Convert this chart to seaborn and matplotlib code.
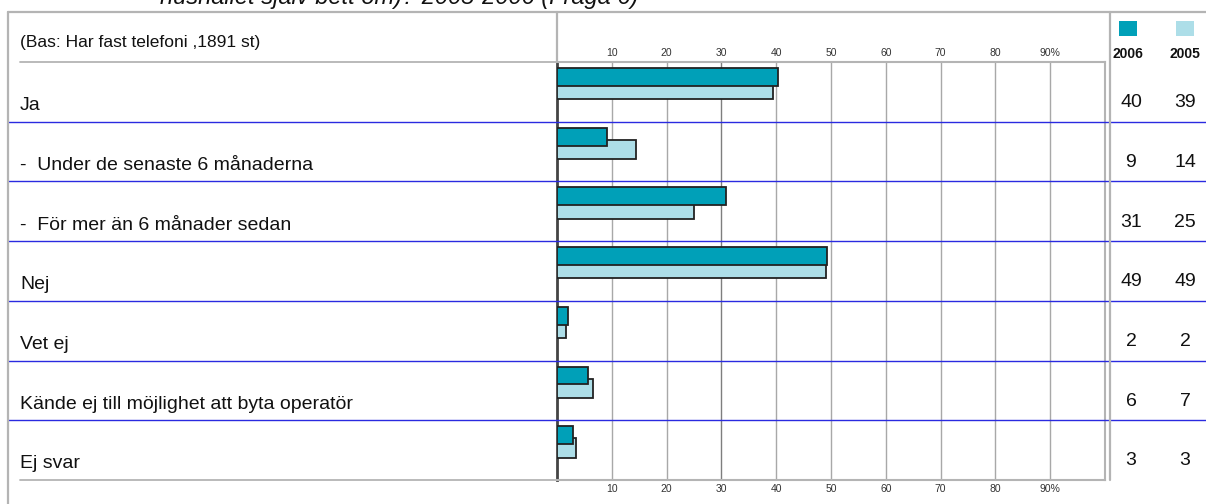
import numpy as np
import pandas as pd
import matplotlib
matplotlib.use("Agg")
import matplotlib.pyplot as plt
import matplotlib.transforms as mtransforms
from matplotlib.lines import Line2D
from matplotlib.patches import Rectangle
import seaborn as sns

# ---- data -------------------------------------------------------------
categories = [
    "Ja",
    "-  Under de senaste 6 månaderna",
    "-  För mer än 6 månader sedan",
    "Nej",
    "Vet ej",
    "Kände ej till möjlighet att byta operatör",
    "Ej svar",
]
values_2006 = [40.3, 9.1, 30.9, 49.3, 2.0, 5.7, 3.0]
values_2005 = [39.4, 14.4, 25.0, 49.0, 1.6, 6.6, 3.4]
years = ["2006", "2005"]
tick_values = [10, 20, 30, 40, 50, 60, 70, 80, 90]
tick_labels = ["10", "20", "30", "40", "50", "60", "70", "80", "90%"]

title_text = "hushållet själv bett om)? 2005-2006 (Fråga 6)"
base_text = "(Bas: Har fast telefoni ,1891 st)"

col_2006 = "#00A0B8"
col_2005 = "#ADDEE8"
edge = "#222222"
grid_grey = "#A8A8A8"
frame_grey = "#B4B4B4"
sep_blue = "#2A2AE0"

sns.set_theme(style="white")
plt.rcParams["font.family"] = ["Liberation Sans", "DejaVu Sans"]
narrow = ["Liberation Sans Narrow", "Liberation Sans", "DejaVu Sans"]

W, H = 1206, 504
fig = plt.figure(figsize=(W / 100, H / 100), dpi=100)
fig.patch.set_facecolor("white")


def fx(px):
    return px / W


def fy(py):
    return 1 - py / H


# plot region in pixels
x0, x1 = 557, 1105
y_top, y_bot = 62, 480
ax = fig.add_axes([fx(x0), fy(y_bot), fx(x1) - fx(x0), fy(y_top) - fy(y_bot)])

n = len(categories)
idx = np.arange(n)
df = pd.DataFrame({
    "pos06": idx + 0.25,
    "pos05": idx + 0.465,
    "v06": values_2006,
    "v05": values_2005,
})

# 2005 bars behind, 2006 bars in front
sns.barplot(data=df, x="v05", y="pos05", orient="h", native_scale=True,
            width=0.32, color=col_2005, saturation=1, edgecolor=edge,
            linewidth=1.3, errorbar=None, ax=ax, zorder=3)
sns.barplot(data=df, x="v06", y="pos06", orient="h", native_scale=True,
            width=0.30, color=col_2006, saturation=1, edgecolor=edge,
            linewidth=1.3, errorbar=None, ax=ax, zorder=4)

ax.set_xlim(0, 100)
ax.set_ylim(n, 0)
ax.set_xlabel("")
ax.set_ylabel("")
ax.set_yticks([])
ax.set_xticks(tick_values)
ax.set_xticklabels(tick_labels, family=narrow)
ax.tick_params(axis="x", length=0, labelsize=7.5, colors="#333333",
               top=True, labeltop=True, bottom=True, labelbottom=True, pad=3)
for t in tick_values:
    ax.axvline(t, color="#7E7E7E" if t == 30 else grid_grey, lw=1.0, zorder=1)

for side in ["top", "right", "bottom"]:
    ax.spines[side].set_color(frame_grey)
    ax.spines[side].set_linewidth(1.5)
ax.spines["left"].set_color("#444444")
ax.spines["left"].set_linewidth(2.0)

# row separators across the whole table
blend = mtransforms.blended_transform_factory(fig.transFigure, ax.transData)
for i in range(1, n):
    ax.add_line(Line2D([fx(8), 1.0], [i, i], transform=blend, color=sep_blue,
                       lw=1.0, clip_on=False, zorder=5))
for yv in (0, n):
    ax.add_line(Line2D([fx(20), fx(x0)], [yv, yv], transform=blend,
                       color=frame_grey, lw=1.3, clip_on=False, zorder=5))

# row labels and value columns
col_x = {"2006": 1131, "2005": 1185}
for i, lab in enumerate(categories):
    ax.text(fx(20), i + 0.73, lab, transform=blend, ha="left", va="center",
            fontsize=14, color="#111111")
    ax.text(fx(col_x["2006"]), i + 0.68, f"{values_2006[i]:.0f}", transform=blend,
            ha="center", va="center", fontsize=14, color="#111111")
    ax.text(fx(col_x["2005"]), i + 0.68, f"{values_2005[i]:.0f}", transform=blend,
            ha="center", va="center", fontsize=14, color="#111111")

# outer frame and dividers
frame_lines = [
    ([8, W], [12, 12]),
    ([8, 8], [12, H]),
    ([x0, x0], [12, y_top]),
    ([1110, 1110], [12, y_bot]),
]
for xs, ys in frame_lines:
    fig.add_artist(Line2D([fx(v) for v in xs], [fy(v) for v in ys],
                          color=frame_grey, lw=1.6))

# header texts
fig.text(fx(20), fy(43), base_text, ha="left", va="center", fontsize=12.5,
         color="#111111")
fig.text(fx(160), fy(4), title_text, ha="left", va="baseline", fontsize=17,
         style="italic", color="#111111")

# legend squares and year labels
for yr, colr in zip(years, [col_2006, col_2005]):
    cx = col_x[yr] - 3 if yr == "2006" else col_x[yr]
    fig.add_artist(Rectangle((fx(cx - 9), fy(36)), fx(18), 15 / H,
                             transform=fig.transFigure, facecolor=colr,
                             edgecolor="none"))
    fig.text(fx(cx), fy(54), yr, ha="center", va="center", fontsize=10,
             fontweight="bold", color="#111111", family=narrow)

fig.savefig("out.png", dpi=100, facecolor="white")
